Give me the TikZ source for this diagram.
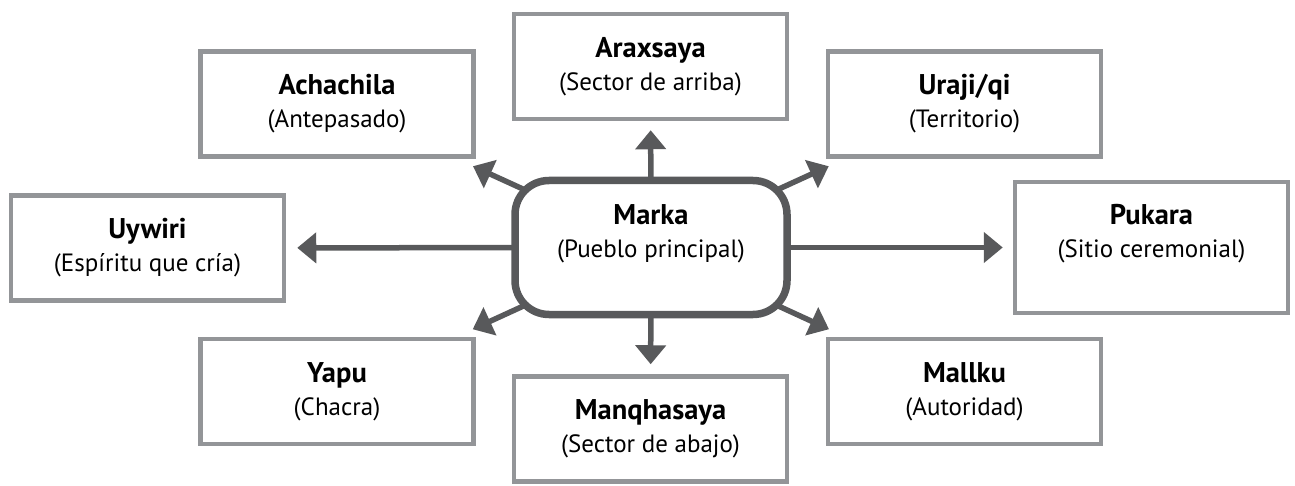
\documentclass[tikz,border=0pt]{standalone}
\usepackage{fontspec}
\setmainfont{PT Sans}
\usetikzlibrary{arrows.meta,backgrounds}
\definecolor{boxgray}{HTML}{939598}
\definecolor{markagray}{HTML}{58595B}
\newcommand{\tname}[1]{{\fontsize{28.5}{33}\selectfont\bfseries #1}}
\tikzstyle{concept}=[rectangle,
                     line width=4.5pt,
                     draw=boxgray,
                     fill=white,
                     minimum width=273pt,
                     minimum height=105pt,
                     align=center,
                     font=\fontsize{25}{33}\selectfont]
\tikzstyle{core}=[rectangle,
                  rounded corners=34pt,
                  line width=7.5pt,
                  draw=markagray,
                  fill=white,
                  minimum width=272pt,
                  minimum height=134pt,
                  align=center,
                  font=\fontsize{25}{33}\selectfont]
\tikzstyle{link}=[line width=5.5pt,
                  draw=markagray,
                  fill=markagray,
                  -{Triangle[length=19pt 0 0,width=30pt 0 0]}]

\begin{document}
\begin{tikzpicture}[x=1pt,y=-1pt]
    \useasboundingbox (0,0) rectangle (1295,486);
    \node[core] (marka) at (651,247.5) {\tname{Marka}\\(Pueblo principal)\\\mbox{}};
    \node[concept] (araxsaya) at (650.5,66.5) {\tname{Araxsaya}\\(Sector de arriba)};
    \node[concept] (achachila) at (337,104) {\tname{Achachila}\\(Antepasado)};
    \node[concept] (uraji) at (964.5,104) {\tname{Uraji/qi}\\(Territorio)};
    \node[concept] (uywiri) at (147.5,248) {\tname{Uywiri}\\(Espíritu que cría)};
    \node[concept, minimum height=131pt] (pukara) at (1151.5,247.5) {\tname{Pukara}\\(Sitio ceremonial)\\\mbox{}};
    \node[concept] (yapu) at (337,391.5) {\tname{Yapu}\\(Chacra)};
    \node[concept] (mallku) at (964.5,391.5) {\tname{Mallku}\\(Autoridad)};
    \node[concept] (manqhasaya) at (650.5,429) {\tname{Manqhasaya}\\(Sector de abajo)};
    \begin{scope}[on background layer]
    \path[link] (marka.center) edge[shorten >=9pt] (araxsaya)
   (marka.center) edge[shorten >=10pt] (manqhasaya)
   (marka.center) edge[shorten >=11pt] (uywiri)
   (marka.center) edge[shorten >=10pt] (pukara)
   (marka.center) edge[shorten >=18pt] (achachila)
   (marka.center) edge[shorten >=18pt] (uraji)
   (marka.center) edge[shorten >=18pt] (yapu)
   (marka.center) edge[shorten >=18pt] (mallku);
    \end{scope}
  \end{tikzpicture}
\end{document}
